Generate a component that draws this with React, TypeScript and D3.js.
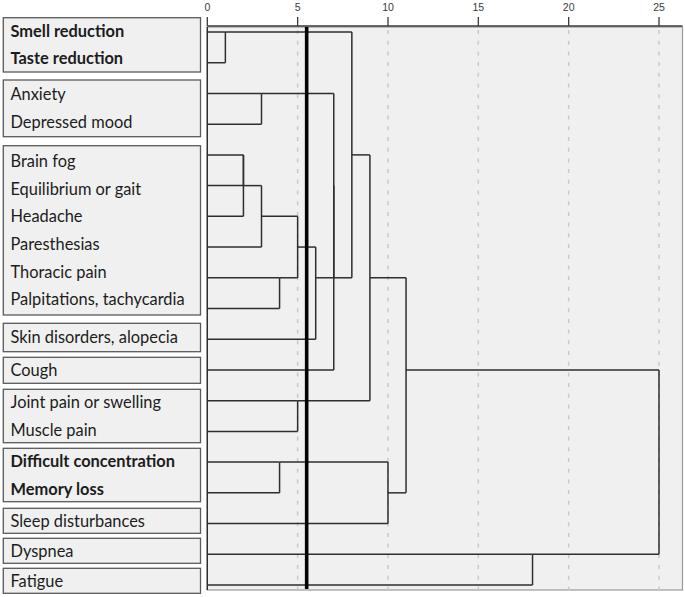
import React from "react";
import * as d3 from "d3";

// ---------- data ----------
const leaves = [
  "Smell reduction",
  "Taste reduction",
  "Anxiety",
  "Depressed mood",
  "Brain fog",
  "Equilibrium or gait",
  "Headache",
  "Paresthesias",
  "Thoracic pain",
  "Palpitations, tachycardia",
  "Skin disorders, alopecia",
  "Cough",
  "Joint pain or swelling",
  "Muscle pain",
  "Difficult concentration",
  "Memory loss",
  "Sleep disturbances",
  "Dyspnea",
  "Fatigue",
];
const boldLeaves = ["Smell reduction", "Taste reduction", "Difficult concentration", "Memory loss"];
const groupSizes = [2, 2, 6, 1, 1, 2, 2, 1, 1, 1];

// agglomeration schedule: clusters 0..18 are leaves, merge i creates cluster 19+i
const mergeA = [0, 4, 20, 2, 21, 8, 14, 23, 12, 26, 22, 29, 19, 31, 25, 32, 17, 34];
const mergeB = [1, 5, 6, 3, 7, 9, 15, 24, 13, 10, 28, 11, 30, 27, 16, 33, 18, 35];
const mergeDist = [1, 2, 2, 3, 3, 4, 4, 5, 5, 6, 7, 7, 8, 9, 10, 11, 18, 25];

const xTicks = [0, 5, 10, 15, 20, 25];
const cutDistance = 5.5;

// ---------- layout ----------
const W = 685;
const H = 597;
const PLOT = { left: 207.3, right: 682.5, top: 27, bottom: 590 };
const BOX_TOPS = [17.7, 80, 145.7, 323.3, 357.3, 389.3, 448.3, 508.3, 538.3, 568.3];
const BOX_HEIGHTS = [54.3, 56.7, 169.3, 28.4, 26, 53.4, 53.4, 25, 25, 25];
const BOX_X = 3.3;
const BOX_W = 197.2;
const LINE_H = 27.7;

export default function App() {
  const x = d3.scaleLinear().domain([0, 25]).range([PLOT.left, 659]);
  const y = d3.scaleLinear().domain([0, leaves.length - 1]).range([32, 585]);

  // compute representative rows and heights for clusters
  const row: number[] = leaves.map((_, i) => i);
  const height: number[] = leaves.map(() => 0);
  const hSegs: { y: number; x1: number; x2: number }[] = [];
  const vSegs: { x: number; y1: number; y2: number }[] = [];
  mergeA.forEach((a, i) => {
    const b = mergeB[i];
    const d = mergeDist[i];
    const ra = row[a];
    const rb = row[b];
    hSegs.push({ y: y(ra), x1: x(height[a]), x2: x(d) });
    hSegs.push({ y: y(rb), x1: x(height[b]), x2: x(d) });
    vSegs.push({ x: x(d), y1: y(Math.min(ra, rb)), y2: y(Math.max(ra, rb)) });
    row.push(Math.floor((ra + rb) / 2));
    height.push(d);
  });

  // label groups
  let idx = 0;
  const groups = groupSizes.map((n, g) => {
    const items = leaves.slice(idx, idx + n);
    idx += n;
    return { items, top: BOX_TOPS[g], h: BOX_HEIGHTS[g] };
  });

  const lineColor = "#2e2e2e";

  return (
    <svg
      width={W}
      height={H}
      style={{ position: "absolute", left: 0, top: 0, background: "#fff" }}
    >
      {/* plot background */}
      <rect
        x={PLOT.left}
        y={PLOT.top}
        width={PLOT.right - PLOT.left}
        height={PLOT.bottom - PLOT.top}
        fill="#f0f0f0"
        stroke="#9a9a9a"
        strokeWidth={1.2}
      />
      {/* grid lines */}
      {xTicks
        .filter((t) => t > 0)
        .map((t) => (
          <line
            key={"g" + t}
            x1={x(t)}
            x2={x(t)}
            y1={PLOT.top + 3}
            y2={PLOT.bottom}
            stroke="#c9c9c9"
            strokeWidth={1.5}
            strokeDasharray="4,6.7"
          />
        ))}
      {/* top axis */}
      <line x1={PLOT.left} x2={PLOT.right} y1={26} y2={26} stroke="#3a3a3a" strokeWidth={1.3} />
      {xTicks.map((t) => (
        <g key={"t" + t}>
          <line x1={x(t)} x2={x(t)} y1={17} y2={26} stroke="#3a3a3a" strokeWidth={1.3} />
          <text
            x={x(t)}
            y={11}
            textAnchor="middle"
            fontFamily="Liberation Sans, Arial, sans-serif"
            fontSize={10.5}
            fill="#3a3a3a"
          >
            {t}
          </text>
        </g>
      ))}
      {/* left axis */}
      <line x1={PLOT.left} x2={PLOT.left} y1={PLOT.top} y2={PLOT.bottom} stroke="#2e2e2e" strokeWidth={1.4} />

      {/* dendrogram */}
      {hSegs
        .filter((s) => s.x2 - s.x1 > 0.01)
        .map((s, i) => (
          <line key={"h" + i} x1={s.x1} x2={s.x2} y1={s.y} y2={s.y} stroke={lineColor} strokeWidth={1.5} />
        ))}
      {vSegs.map((s, i) => (
        <line key={"v" + i} x1={s.x} x2={s.x} y1={s.y1} y2={s.y2} stroke={lineColor} strokeWidth={1.5} />
      ))}

      {/* cut line */}
      <line
        x1={x(cutDistance)}
        x2={x(cutDistance)}
        y1={PLOT.top}
        y2={PLOT.bottom - 1}
        stroke="#000"
        strokeWidth={3.6}
      />

      {/* label boxes */}
      {groups.map((g, gi) => (
        <g key={"b" + gi}>
          <rect
            x={BOX_X}
            y={g.top}
            width={BOX_W}
            height={g.h}
            fill="#f0f0f0"
            stroke="#5a5a5a"
            strokeWidth={1.3}
          />
          {g.items.map((name, k) => {
            const n = g.items.length;
            const by = g.top + g.h / 2 + (k - (n - 1) / 2) * LINE_H + 5.7;
            const bold = boldLeaves.includes(name);
            return (
              <text
                key={name}
                x={10.5}
                y={by}
                fontFamily="Lato, 'Open Sans', sans-serif"
                fontSize={16.4}
                fontWeight={bold ? 700 : 400}
                fill="#1c1c1c"
              >
                {name}
              </text>
            );
          })}
        </g>
      ))}
    </svg>
  );
}
